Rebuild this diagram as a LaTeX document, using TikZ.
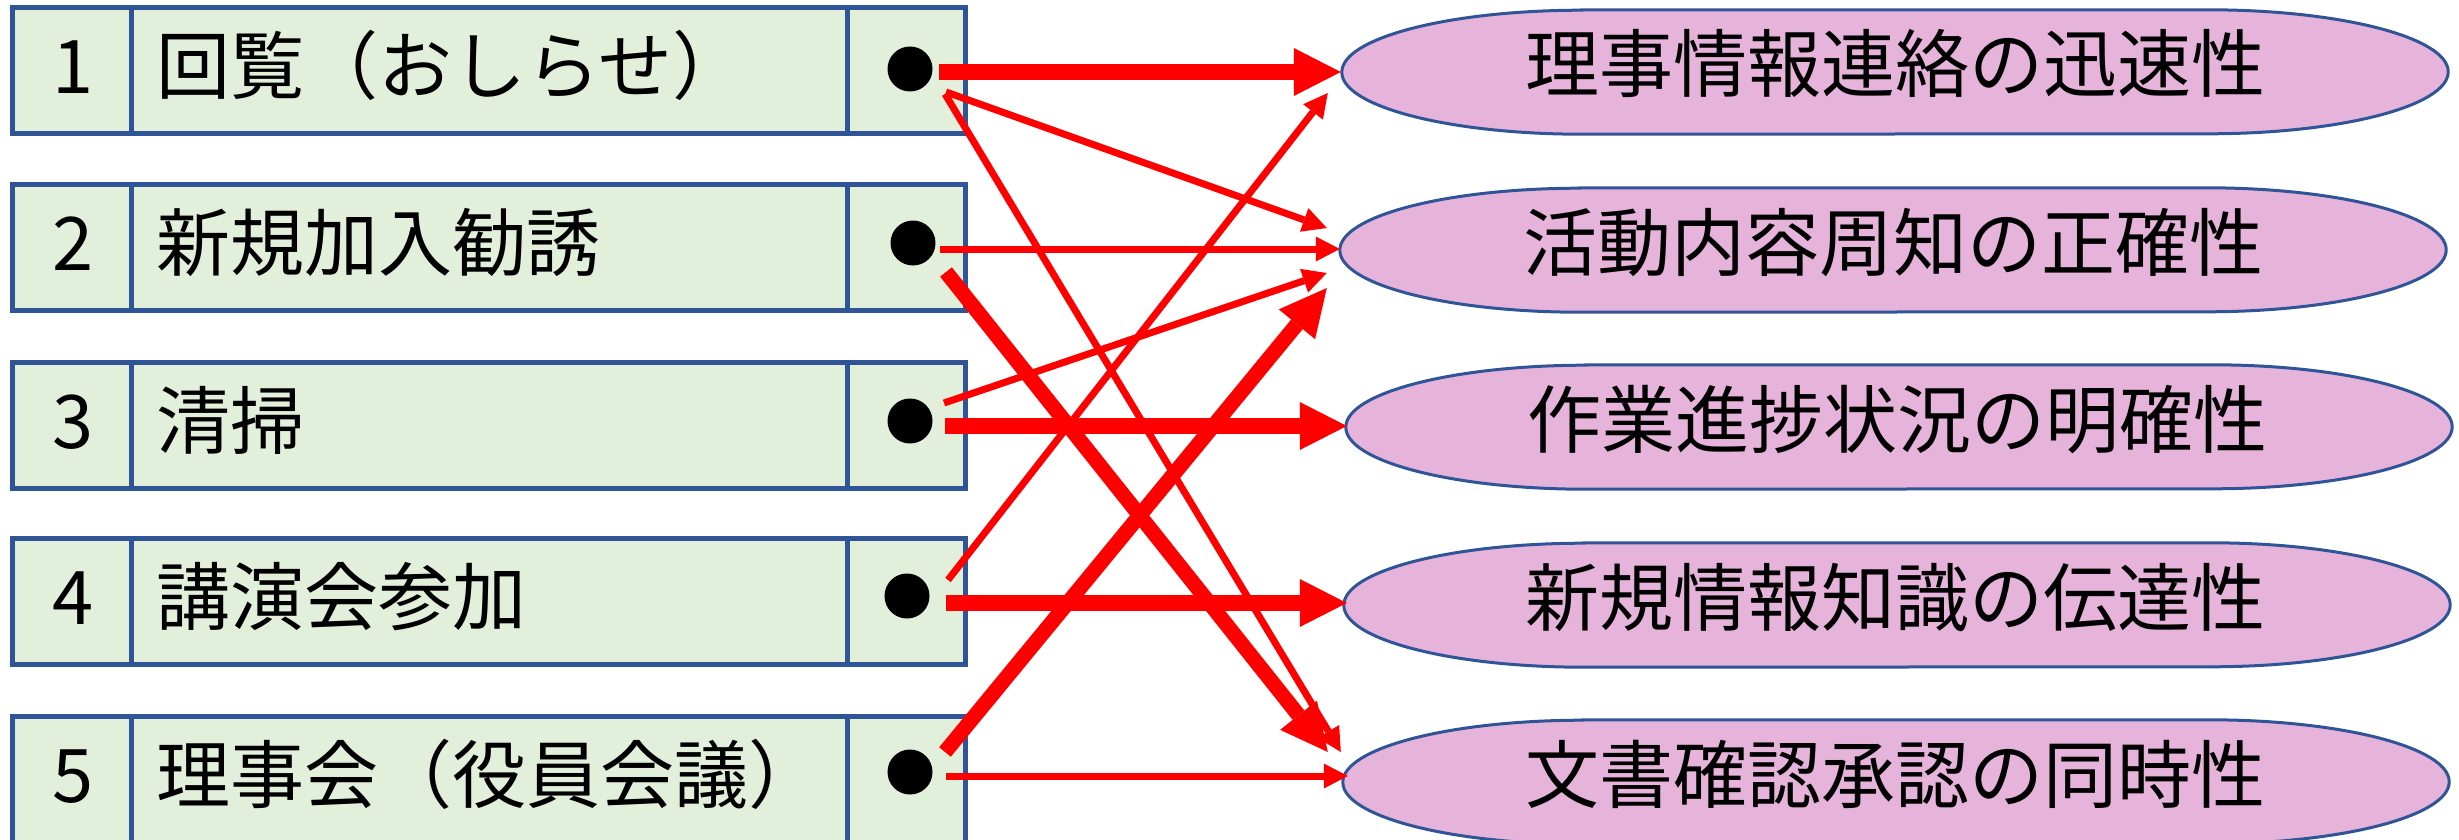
\documentclass[tikz,border=0pt]{standalone}
\usepackage{fontspec}
\setmainfont{Noto Sans CJK JP}
\usetikzlibrary{arrows.meta,calc}
\definecolor{boxfill}{HTML}{E2EFDA}
\definecolor{boxline}{HTML}{2F5597}
\definecolor{ellfill}{HTML}{E6B3DA}
\definecolor{arrred}{HTML}{FF0000}
\tikzset{
  cell/.style={draw=boxline, fill=boxfill, line width=5pt, inner sep=0pt, minimum height=126pt},
  numcell/.style={cell, minimum width=119pt},
  txtcell/.style={cell, minimum width=716pt},
  dotcell/.style={cell, minimum width=118pt},
  bigfont/.style={font=\fontsize{74}{80}\selectfont, inner sep=0pt},
  lab/.style={bigfont, anchor=base west},
  numlab/.style={bigfont, anchor=base},
  blackdot/.style={circle, fill=black, minimum size=45pt, inner sep=0pt},
  ellnode/.style={rectangle, inner sep=0pt, minimum width=1106pt, minimum height=124pt},
  ellshape/.style={draw=boxline, fill=ellfill, line width=3pt},
  ellab/.style={bigfont, anchor=base},
  heavyarrow/.style={draw=arrred, line width=16pt, -{Triangle[length=47pt,width=48pt,line width=0pt]}},
  midarrow/.style={draw=arrred, line width=15pt, -{Triangle[length=47pt,width=47pt,line width=0pt]}},
  lightarrow/.style={draw=arrred, line width=7pt, -{Triangle[length=24pt,width=25pt,line width=0pt]}},
}
\newcommand{\ovalshape}[1]{%
  \draw[ellshape] ($(#1.north west)+(240,0)$) -- ($(#1.north east)+(-240,0)$)
    arc[start angle=-90, end angle=90, x radius=240, y radius=62]
    -- ($(#1.south west)+(240,0)$)
    arc[start angle=90, end angle=270, x radius=240, y radius=62] -- cycle;}
\begin{document}
\begin{tikzpicture}[x=1pt, y=-1pt]
\useasboundingbox (0,0) rectangle (2459,840);

% left rows
\node[numcell] (n1) at (71.5,70.5) {};
\node[txtcell] (t1) at (489,70.5) {};
\node[dotcell] (c1) at (906,70.5) {};
\node[numlab] (nl1) at (73,93.5) {1};
\node[lab] (tl1) at (156,93.5) {回覧（おしらせ）};

\node[numcell] (n2) at (71.5,247) {};
\node[txtcell] (t2) at (489,247) {};
\node[dotcell] (c2) at (906,247) {};
\node[numlab] (nl2) at (73,270) {2};
\node[lab] (tl2) at (156,270) {新規加入勧誘};

\node[numcell] (n3) at (71.5,425) {};
\node[txtcell] (t3) at (489,425) {};
\node[dotcell] (c3) at (906,425) {};
\node[numlab] (nl3) at (73,448) {3};
\node[lab] (tl3) at (156,448) {清掃};

\node[numcell] (n4) at (71.5,601) {};
\node[txtcell] (t4) at (489,601) {};
\node[dotcell] (c4) at (906,601) {};
\node[numlab] (nl4) at (73,624) {4};
\node[lab] (tl4) at (156,624) {講演会参加};

\node[numcell] (n5) at (71.5,779) {};
\node[txtcell] (t5) at (489,779) {};
\node[dotcell] (c5) at (906,779) {};
\node[numlab] (nl5) at (73,802) {5};
\node[lab] (tl5) at (156,802) {理事会（役員会議）};

% dots
\node[blackdot] (d1) at (910,69) {};
\node[blackdot] (d2) at (913,243) {};
\node[blackdot] (d3) at (910,421) {};
\node[blackdot] (d4) at (907,596) {};
\node[blackdot] (d5) at (910,772) {};

% right ovals
\node[ellnode] (e1) at (1895,72) {};
\node[ellnode] (e2) at (1893,250) {};
\node[ellnode] (e3) at (1899,427) {};
\node[ellnode] (e4) at (1897,605) {};
\node[ellnode] (e5) at (1896,782) {};
\ovalshape{e1}
\ovalshape{e2}
\ovalshape{e3}
\ovalshape{e4}
\ovalshape{e5}
\node[ellab] (el1) at (1895,92) {理事情報連絡の迅速性};
\node[ellab] (el2) at (1893,270) {活動内容周知の正確性};
\node[ellab] (el3) at (1897,447) {作業進捗状況の明確性};
\node[ellab] (el4) at (1895,625) {新規情報知識の伝達性};
\node[ellab] (el5) at (1895,802) {文書確認承認の同時性};

% connectors
\draw[heavyarrow] ($(d1)+(29,3)$) -- ($(e1.west)+(-1,0)$);
\draw[lightarrow] ($(d1)+(36,23)$) -- ($(e2.west)+(-13,-22)$);
\draw[lightarrow] ($(d1)+(35,25)$) -- ($(e5.west)+(-2,-30)$);
\draw[lightarrow] ($(d2)+(27,6)$) -- ($(e2.west)+(0,-1)$);
\draw[midarrow] ($(d2)+(33,29)$) -- ($(e5.west)+(-15,-30)$);
\draw[lightarrow] ($(d3)+(34,-18)$) -- ($(e2.west)+(-13,23)$);
\draw[heavyarrow] ($(d3)+(35,5)$) -- ($(e3.west)+(1,-1)$);
\draw[lightarrow] ($(d4)+(41,-16)$) -- ($(e1.west)+(-14,21)$);
\draw[heavyarrow] ($(d4)+(39,7)$) -- ($(e4.west)+(3,-2)$);
\draw[midarrow] ($(d5)+(35,-20)$) -- ($(e2.west)+(-13,38)$);
\draw[lightarrow] ($(d5)+(36,4)$) -- ($(e5.west)+(5,-6)$);
\end{tikzpicture}
\end{document}
